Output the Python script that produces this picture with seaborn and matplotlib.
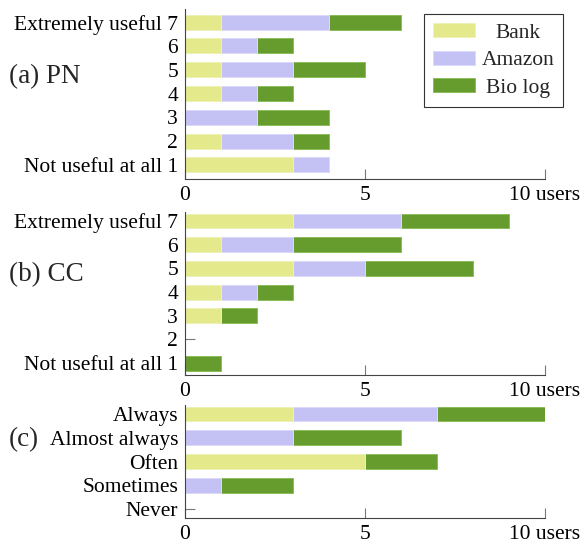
import numpy as np
import pandas as pd
import matplotlib
matplotlib.use("Agg")
import matplotlib.pyplot as plt
from matplotlib.patches import Patch
import seaborn as sns

# --- data ---------------------------------------------------------------
series = ["Bank", "Amazon", "Bio log"]
colors = ["#e4ea8c", "#c4c2f5", "#669b2e"]
edge_colors = ["#eef2b8", "#dcdafb", "#8cbc5a"]

pn_levels = ["Extremely useful 7", "6", "5", "4", "3", "2", "Not useful at all 1"]
pn_bank = [1, 1, 1, 1, 0, 1, 3]
pn_amazon = [3, 1, 2, 1, 2, 2, 1]
pn_bio = [2, 1, 2, 1, 2, 1, 0]

cc_levels = ["Extremely useful 7", "6", "5", "4", "3", "2", "Not useful at all 1"]
cc_bank = [3, 1, 3, 1, 1, 0, 0]
cc_amazon = [3, 2, 2, 1, 0, 0, 0]
cc_bio = [3, 3, 3, 1, 1, 0, 1]

freq_levels = ["Always", "Almost always", "Often", "Sometimes", "Never"]
freq_bank = [3, 0, 5, 0, 0]
freq_amazon = [4, 3, 0, 1, 0]
freq_bio = [3, 3, 2, 2, 0]

x_ticks = [0, 5, 10]
x_ticklabels = ["0", "5", "10 users"]

FS = 15.5
sns.set_theme(style="ticks")
plt.rcParams["font.family"] = ["Liberation Serif", "DejaVu Serif"]
plt.rcParams["font.size"] = FS

W, H = 581, 547
fig = plt.figure(figsize=(W / 100, H / 100), dpi=100)


def px_axes(top, bottom, left=185, right=545):
    return fig.add_axes([left / W, 1 - bottom / H, (right - left) / W, (bottom - top) / H])


def stacked(ax, levels, bank, amazon, bio, ylim):
    df = pd.DataFrame({"level": levels, "Bank": bank, "Amazon": amazon, "Bio log": bio})
    # cumulative totals, drawn from the longest down so each segment shows
    df["c1"] = df["Bank"]
    df["c2"] = df["Bank"] + df["Amazon"]
    df["c3"] = df["c2"] + df["Bio log"]
    for col, c, ec in zip(["c3", "c2", "c1"], colors[::-1], edge_colors[::-1]):
        sns.barplot(data=df, x=col, y="level", order=levels, orient="h",
                    color=c, width=0.63, edgecolor=ec, linewidth=0.7,
                    saturation=1, ax=ax)
    ax.set_xlim(0, 10)
    ax.set_ylim(*ylim)
    ax.set_xticks(x_ticks)
    ax.set_xticklabels(x_ticklabels)
    ax.set_xlabel("")
    ax.set_ylabel("")
    for s in ["top", "right"]:
        ax.spines[s].set_visible(False)
    for s in ["left", "bottom"]:
        ax.spines[s].set_color("#444444")
        ax.spines[s].set_linewidth(0.8)
    ax.tick_params(axis="both", direction="in", length=7, width=0.8,
                   color="#777777", pad=5, labelsize=FS, labelcolor="black")
    ax.set_axisbelow(True)


ax_a = px_axes(9, 179)
stacked(ax_a, pn_levels, pn_bank, pn_amazon, pn_bio, (6.59, -0.55))

ax_b = px_axes(212, 375)
stacked(ax_b, cc_levels, cc_bank, cc_amazon, cc_bio, (6.5, -0.38))

ax_c = px_axes(405, 518)
stacked(ax_c, freq_levels, freq_bank, freq_amazon, freq_bio, (4.38, -0.38))

# panel labels
fig.text(9 / W, 1 - 77 / H, "(a) PN", ha="left", va="center", fontsize=19.5)
fig.text(9 / W, 1 - 275 / H, "(b) CC", ha="left", va="center", fontsize=19.5)
fig.text(9 / W, 1 - 440 / H, "(c)", ha="left", va="center", fontsize=19.5)

handles = [Patch(facecolor=c, edgecolor=ec, linewidth=0.7) for c, ec in zip(colors, edge_colors)]
leg = fig.legend(handles, series, loc="upper left",
                 bbox_to_anchor=(424 / W, 1 - 14 / H), borderaxespad=0,
                 fancybox=False, framealpha=1, edgecolor="#333333",
                 fontsize=FS, handlelength=1.95, handleheight=0.65,
                 labelspacing=0.36, borderpad=0.42, handletextpad=0.3)
leg.get_frame().set_linewidth(0.8)

# centre legend texts in their column
fig.canvas.draw()
renderer = fig.canvas.get_renderer()
widths = [t.get_window_extent(renderer).width for t in leg.get_texts()]
for t, w in zip(leg.get_texts(), widths):
    t.set_position(((max(widths) - w) / 2, 0))

fig.savefig("out.png", dpi=100)
